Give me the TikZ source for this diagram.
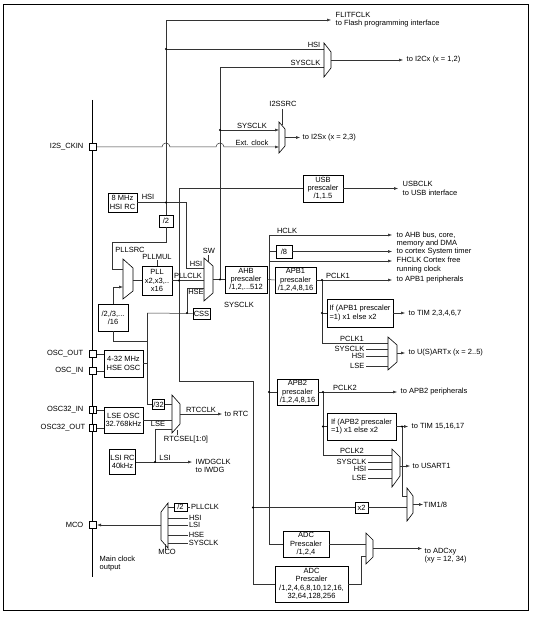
\documentclass[tikz,border=0pt]{standalone}
\usepackage{fontspec}
\setmainfont{Liberation Sans}
\usetikzlibrary{arrows.meta,positioning}
\tikzset{sig/.style={draw=black!80,line width=0.5pt},
  sigto/.style={sig,-{Latex[length=4pt,width=3pt]}},
  blk/.style={draw,line width=0.6pt,inner sep=0pt,align=center,font=\fontsize{7.5}{8.3}\selectfont},
  txt/.style={inner sep=0.5pt,font=\fontsize{7.5}{8.3}\selectfont},
  pad/.style={draw,line width=0.7pt,fill=white,minimum size=7.5pt,inner sep=0pt},
  mux/.style={draw,line width=0.6pt,fill=white}}

\begin{document}
\begin{tikzpicture}[x=1pt,y=-1pt]
        \useasboundingbox (0,0) rectangle (534,617);
        \draw[line width=0.8pt] (3,4) rectangle (528,610);
        \draw[line width=1.6pt] (92.5,100) -- (92.5,577);
        \node[pad] (i2sck) at (93,147) {};
        \node[pad] (oscout) at (93,354) {};
        \node[pad] (oscin) at (93,371) {};
        \node[pad] (oscin32) at (93,410) {};
        \node[pad] (oscout32) at (93,428) {};
        \node[pad] (mcopad) at (93,525) {};
        \draw (oscin32.north) -- (oscin32.south);
        \draw (oscout32.north) -- (oscout32.south);
        \node[txt,anchor=east] (li2s) at (84,147) {I2S\_CKIN};
        \node[txt,anchor=east] (loscout) at (84,354) {OSC\_OUT};
        \node[txt,anchor=east] (loscin) at (84,371) {OSC\_IN};
        \node[txt,anchor=east] (loscin32) at (84,410) {OSC32\_IN};
        \node[txt,anchor=east] (loscout32) at (86,428) {OSC32\_OUT};
        \node[txt,anchor=east] (lmcopad) at (84,525) {MCO};
        \node[txt,anchor=west,align=left] (lmain) at (99,563.5) {Main clock\\output};
        % oscillators and PLL
        \node[blk,minimum width=29pt,minimum height=19pt] (hsirc) at (122.5,202.5) {8 MHz\\HSI RC};
        \node[blk,minimum width=14pt,minimum height=12pt] (div2) at (166,221) {/2};
        \node[blk,minimum width=30pt,minimum height=29pt] (pll) at (157,280.5) {PLL\\x2,x3,..\\x16};
        \node[blk,minimum width=30pt,minimum height=27pt] (prediv) at (113,317.5) {/2,/3,...\\/16};
        \node[blk,minimum width=17pt,minimum height=11pt] (css) at (201.5,313.5) {CSS};
        \node[blk,minimum width=39pt,minimum height=27pt] (hseosc) at (123.5,363.5) {4-32 MHz\\HSE OSC};
        \node[blk,minimum width=39pt,minimum height=26pt] (lseosc) at (123.5,420) {LSE OSC\\32.768kHz};
        \node[blk,minimum width=12pt,minimum height=10pt] (div32) at (158.5,404.5) {/32};
        \node[blk,minimum width=26pt,minimum height=25pt] (lsirc) at (122.5,462) {LSI RC\\40kHz};
        % prescalers
        \node[blk,minimum width=40pt,minimum height=27pt] (usbpre) at (323,188.5) {USB\\prescaler\\/1,1.5};
        \node[blk,minimum width=42pt,minimum height=27pt] (ahb) at (246,279.5) {AHB\\prescaler\\/1,2,...512};
        \node[blk,minimum width=16pt,minimum height=13pt] (div8) at (284,251.5) {/8};
        \node[blk,minimum width=41pt,minimum height=26pt] (apba) at (295.5,280) {APB1\\prescaler\\/1,2,4,8,16};
        \node[blk,minimum width=66pt,minimum height=28pt,align=left] (tima) at (360,313) {If (APB1 prescaler\\=1) x1 else x2};
        \node[blk,minimum width=41pt,minimum height=26pt] (apbb) at (297.5,392) {APB2\\prescaler\\/1,2,4,8,16};
        \node[blk,minimum width=69pt,minimum height=27pt,align=left] (timb) at (361.5,426.5) {If (APB2 prescaler\\=1) x1 else x2};
        \node[blk,minimum width=13pt,minimum height=11pt] (x2) at (361.5,507.5) {x2};
        \node[blk,minimum width=46pt,minimum height=26pt] (adca) at (306,544) {ADC\\Prescaler\\/1,2,4};
        \node[blk,minimum width=73pt,minimum height=36pt] (adcb) at (311.5,584) {ADC\\Prescaler\\/1,2,4,6,8,10,12,16,\\32,64,128,256};
        \node[blk,minimum width=13pt,minimum height=8pt] (mcodiv) at (180.5,507) {/2};
        % HSI, flash, I2C, I2S
        \draw[sig] (hsirc.east) -- (166,202.5) -- (div2.north);
        \draw[sig] (166,202.5) -- (186,202.5) -- (186,268) -- (204,268);
        \draw[sigto] (166,202.5) -- (166,20) -- (331,20);
        \draw[sig] (166,49) -- (324,49);
        \draw[sig] (220,279.5) -- (220,67) -- (324,67);
        \draw[sigto] (220,130) -- (279,130);
        \draw[sigto] (i2sck.east) -- (162,147) arc[start angle=180,end angle=0,radius=4pt]
                -- (216,147) arc[start angle=180,end angle=0,radius=4pt] -- (279,147);
        \fill (166,49) circle (1.1pt);
        \fill (166,202.5) circle (1.1pt);
        \fill (220,130) circle (1.1pt);
        \draw[mux] (324,43) -- (331,52) -- (331,68) -- (324,77) -- cycle;
        \draw[mux] (279,122) -- (285,129) -- (285,146) -- (279,153) -- cycle;
        \draw[sig] (282,109) -- (282,125.5);
        \draw[sigto] (331,60) -- (403,60);
        \draw[sigto] (285,137.5) -- (300,137.5);
        \node[txt,anchor=west,align=left] (lflit) at (335,20) {FLITFCLK\\to Flash programming interface};
        \node[txt,anchor=south east] (lhsia) at (321,48) {HSI};
        \node[txt,anchor=south east] (lsysa) at (321,66) {SYSCLK};
        \node[txt,anchor=west] (li2c) at (406,60) {to I2Cx (x = 1,2)};
        \node[txt] (li2ssrc) at (283,104) {I2SSRC};
        \node[txt,anchor=south] (lsysb) at (252,129) {SYSCLK};
        \node[txt,anchor=south] (lext) at (252,146) {Ext. clock};
        \node[txt,anchor=west] (li2s) at (302,137.5) {to I2Sx (x = 2,3)};
        \node[txt] (lhsib) at (148,197) {HSI};
        % PLL source and system clock switch
        \draw[mux] (123,259) -- (133,268) -- (133,291) -- (123,299) -- cycle;
        \draw[sig] (div2.south) -- (166,242) -- (112,242) -- (112,269) -- (123,269);
        \draw[sigto] (prediv.north) |- (123,287);
        \draw[sig] (133,280.5) -- (pll.west);
        \node[txt] (lpllsrc) at (130,250) {PLLSRC};
        \node[txt] (lpllmul) at (157,257) {PLLMUL};
        \draw[sig] (lpllmul.south) -- (pll.north);
        \draw[mux] (204,258) -- (213,266) -- (213,293) -- (204,301) -- cycle;
        \draw[sig] (208,255) -- (208,261.5);
        \draw[sig] (pll.east) -- (204,280.5);
        \draw[sig] (179,280.5) -- (179,188.5) -- (usbpre.west);
        \draw[sig] (179,280.5) -- (179,381) -- (253,381) -- (253,584) -- (adcb.west);
        \draw[sig] (253,507.5) -- (x2.west);
        \draw[sig] (x2.east) -- (407,507.5);
        \fill (179,280.5) circle (1.1pt);
        \fill (253,507.5) circle (1.1pt);
        \draw[sig] (187,313) -- (187,288) -- (204,288);
        \draw[sig] (213,279.5) -- (ahb.west);
        \fill (220,279.5) circle (1.1pt);
        \node[txt] (lsw) at (209,251) {SW};
        \node[txt,anchor=south] (lhsic) at (196,267) {HSI};
        \node[txt,anchor=south] (lpllclk) at (188,279.5) {PLLCLK};
        \node[txt,anchor=north] (lhse) at (196,289) {HSE};
        \node[txt] (lsysc) at (239,305) {SYSCLK};
        \draw[sigto] (usbpre.east) -- (398,188.5);
        \node[txt,anchor=west,align=left] (lusb) at (402,188.5) {USBCLK\\to USB interface};
        % HSE, LSE, LSI, RTC
        \draw[sig] (147,313) -- (css.west);
        \fill (187,313) circle (1.1pt);
        \draw[sig] (147,313) -- (147,404.5) -- (div32.west);
        \draw[sig] (prediv.south) |- (147,341);
        \draw[sig] (hseosc.east) -- (147,363.5);
        \draw[sig] (oscout.east) -- (hseosc.west |- oscout);
        \draw[sig] (oscin.east) -- (hseosc.west |- oscin);
        \draw[sig] (oscin32.east) -- (lseosc.west |- oscin32);
        \draw[sig] (oscout32.east) -- (lseosc.west |- oscout32);
        \draw[mux] (172,395) -- (180,404) -- (180,424) -- (172,433) -- cycle;
        \draw[sig] (div32.east) -- (172,404.5);
        \draw[sig] (lseosc.east) -- (172,420);
        \draw[sig] (155,462) -- (155,429) -- (172,429);
        \draw[sigto] (lsirc.east) -- (192,462);
        \fill (155,462) circle (1.1pt);
        \draw[sig] (177,430) -- (177,435);
        \draw[sigto] (180,414) -- (222,414);
        \node[txt,anchor=north] (llse) at (158,421) {LSE};
        \node[txt,anchor=south] (llsi) at (165,461) {LSI};
        \node[txt,anchor=south] (lrtcclk) at (201,413) {RTCCLK};
        \node[txt,anchor=west] (lrtc) at (224,414) {to RTC};
        \node[txt] (lrtcsel) at (186,440) {RTCSEL[1:0]};
        \node[txt,anchor=west,align=left] (liwdg) at (195,466) {IWDGCLK\\to IWDG};
        % HCLK and APB1
        \draw[sig] (269,235) -- (269,544) -- (adca.west);
        \draw[sigto] (269,235) -- (392,235);
        \draw[sig] (269,251.5) -- (div8.west);
        \draw[sigto] (div8.east) -- (392,251.5);
        \draw[sigto] (269,261) -- (392,261);
        \draw[sig] (ahb.east) -- (apba.west);
        \draw[sigto] (apba.east) -- (392,280);
        \draw[sig] (322,280) -- (322,343) -- (388,343);
        \draw[sig] (322,313) -- (tima.west);
        \draw[sigto] (tima.east) -- (405,313);
        \fill (322,280) circle (1.1pt);
        \fill (322,313) circle (1.1pt);
        \node[txt,anchor=south] (lhclk) at (287,234) {HCLK};
        \node[txt,anchor=west,align=left] (lahb) at (396,239.5) {to AHB bus, core,\\memory and DMA};
        \node[txt,anchor=west] (lsyst) at (396,251.5) {to cortex System timer};
        \node[txt,anchor=west,align=left] (lfclk) at (396,265.2) {FHCLK Cortex free\\running clock};
        \node[txt,anchor=west] (lapba) at (396,280) {to APB1 peripherals};
        \node[txt,anchor=south] (lpclka) at (338,279) {PCLK1};
        \node[txt,anchor=west] (ltima) at (408,313) {to TIM 2,3,4,6,7};
        \draw[mux] (388,337) -- (397,345) -- (397,362) -- (388,370) -- cycle;
        \foreach \yy in {349,356,366} \draw[sig] (366,\yy) -- (388,\yy);
        \draw[sigto] (397,353) -- (405,353);
        \node[txt,anchor=south] (lpclkb) at (352,342) {PCLK1};
        \node[txt,anchor=east] (lsysd) at (365,349) {SYSCLK};
        \node[txt,anchor=east] (lhsid) at (365,356) {HSI};
        \node[txt,anchor=east] (llsed) at (365,366) {LSE};
        \node[txt,anchor=west] (luarta) at (408,353) {to U(S)ARTx (x = 2..5)};
        % APB2
        \draw[sig] (269,392) -- (apbb.west);
        \fill (269,392) circle (1.1pt);
        \draw[sigto] (apbb.east) -- (397,392);
        \draw[sig] (323,392) -- (323,455) -- (392,455);
        \draw[sig] (323,426.5) -- (timb.west);
        \draw[sigto] (timb.east) -- (408,426.5);
        \draw[sig] (402,426.5) -- (402,496) -- (407,496);
        \fill (323,392) circle (1.1pt);
        \fill (323,426.5) circle (1.1pt);
        \fill (402,426.5) circle (1.1pt);
        \node[txt,anchor=south] (lpclkc) at (345,391) {PCLK2};
        \node[txt,anchor=west] (lapbb) at (400,392) {to APB2 peripherals};
        \node[txt,anchor=west] (ltimb) at (411,426.5) {to TIM 15,16,17};
        \draw[mux] (392,449) -- (400,457) -- (400,476) -- (392,487) -- cycle;
        \foreach \yy in {462,469,478} \draw[sig] (368,\yy) -- (392,\yy);
        \draw[sigto] (400,466) -- (410,466);
        \node[txt,anchor=south] (lpclkd) at (352,454) {PCLK2};
        \node[txt,anchor=east] (lsyse) at (367,462) {SYSCLK};
        \node[txt,anchor=east] (lhsie) at (367,469) {HSI};
        \node[txt,anchor=east] (llsee) at (367,478) {LSE};
        \node[txt,anchor=west] (luartb) at (412,466) {to USART1};
        \draw[mux] (407,488) -- (413,496) -- (413,513) -- (407,521) -- cycle;
        \draw[sigto] (413,504.5) -- (423,504.5);
        \node[txt,anchor=west] (ltim18) at (423,504.5) {TIM1/8};
        % ADC
        \draw[mux] (366,533) -- (373,540) -- (373,557) -- (366,564) -- cycle;
        \draw[sig] (adca.east) -- (366,544);
        \draw[sig] (adcb.east) -- (361,584) -- (361,556) -- (366,556);
        \draw[sigto] (373,548.5) -- (422,548.5);
        \node[txt,anchor=west,align=left] (ladc) at (424,556) {to ADCxy\\(xy = 12, 34)};
        % MCO
        \draw[mux] (168,503) -- (161,512) -- (161,540) -- (168,548) -- cycle;
        \draw[sigto] (161,525) -- (mcopad.east);
        \draw[sig] (168,507) -- (mcodiv.west);
        \draw[sig] (mcodiv.east) -- ++(3,0) node[txt,anchor=west] (lmcoa) {PLLCLK};
        \draw[sig,line width=1pt] (168,518) -- (188,518) node[txt,anchor=west] (lmcob) {HSI};
        \draw[sig,line width=1pt] (168,525) -- (188,525) node[txt,anchor=west] (lmcoc) {LSI};
        \draw[sig] (168,535) -- (188,535) node[txt,anchor=west] (lmcod) {HSE};
        \draw[sig] (168,543) -- (188,543) node[txt,anchor=west] (lmcoe) {SYSCLK};
        \draw[sig] (165,544) -- (165,550);
        \node[txt,anchor=north] (lmcosel) at (167,549) {MCO};
    \end{tikzpicture}
\end{document}
